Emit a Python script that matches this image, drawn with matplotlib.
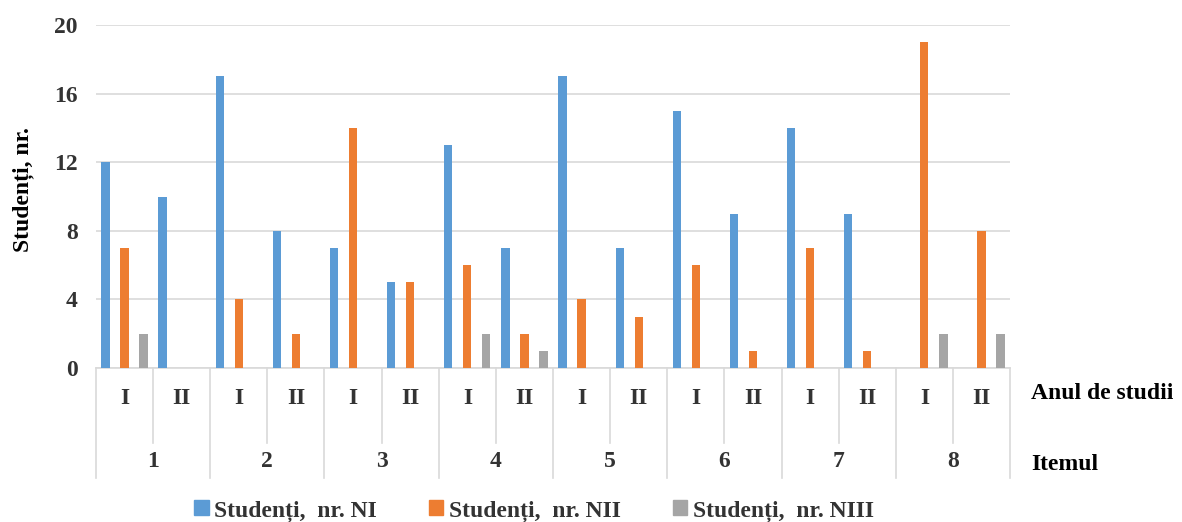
import numpy as np
import matplotlib.pyplot as plt
from matplotlib.patches import Patch

plt.rcParams['font.family'] = ['Liberation Serif', 'DejaVu Serif']

# itemi si anii de studii
itemi = ['1', '2', '3', '4', '5', '6', '7', '8']
ani = ['I', 'II']

# numarul de studenti pe fiecare categorie (item x an)
nr_NI   = [12, 10, 17, 8, 7, 5, 13, 7, 17, 7, 15, 9, 14, 9, 0, 0]
nr_NII  = [7, 0, 4, 2, 14, 5, 6, 2, 4, 3, 6, 1, 7, 1, 19, 8]
nr_NIII = [2, 0, 0, 0, 0, 0, 2, 1, 0, 0, 0, 0, 0, 0, 2, 2]

serii = ['Studenți,  nr. NI', 'Studenți,  nr. NII', 'Studenți,  nr. NIII']
culori = ['#5B9BD5', '#ED7D31', '#A5A5A5']
text_col = '#333333'
grid_col = '#D9D9D9'
fs = 17

n = len(nr_NI)
x = np.arange(n) + 0.5

fig = plt.figure(figsize=(11.82, 5.22), dpi=100)
ax = fig.add_axes([0.0812, 0.295, 0.7733, 0.657])

w = 0.145
for k, (vals, c) in enumerate(zip([nr_NI, nr_NII, nr_NIII], culori)):
    ax.bar(x + (k - 1) / 3, vals, width=w, color=c, zorder=3)

ax.set_xlim(0, n)
ax.set_ylim(0, 20)
ax.set_yticks(range(0, 21, 4))
ax.yaxis.grid(True, color=grid_col, linewidth=1.2, zorder=0)
for s in ['left', 'right', 'top']:
    ax.spines[s].set_visible(False)
ax.spines['bottom'].set_color(grid_col)
ax.spines['bottom'].set_linewidth(1.2)
ax.tick_params(axis='y', length=0, pad=13, labelsize=fs, labelcolor=text_col)
for t in ax.get_yticklabels():
    t.set_fontweight('bold')
ax.set_xticks([])

ax.set_ylabel('Studenți, nr.', fontsize=17, fontweight='bold', color='black')
ax.yaxis.set_label_coords(-0.068, 0.52)

# axa de categorii pe doua niveluri
tr = ax.get_xaxis_transform()
for i in range(n + 1):
    jos = -0.32 if i % 2 == 0 else -0.219
    ax.plot([i, i], [0, jos], transform=tr, color=grid_col, lw=1.2, clip_on=False)
for i in range(n):
    ax.text(i + 0.5, -0.088, ani[i % 2], transform=tr, ha='center', va='center',
            fontsize=fs, fontweight='bold', color=text_col)
for j, it in enumerate(itemi):
    ax.text(2 * j + 1, -0.272, it, transform=tr, ha='center', va='center',
            fontsize=fs, fontweight='bold', color=text_col)

ax.text(1.023, -0.075, 'Anul de studii', transform=ax.transAxes, ha='left', va='center',
        fontsize=fs, fontweight='bold', color='black')
ax.text(1.023, -0.28, 'Itemul', transform=ax.transAxes, ha='left', va='center',
        fontsize=fs, fontweight='bold', color='black')

handles = [Patch(color=c, label=s) for c, s in zip(culori, serii)]
leg = fig.legend(handles=handles, loc='lower center', bbox_to_anchor=(0.452, -0.04),
                 ncol=3, frameon=False, handlelength=0.6, handleheight=0.6,
                 handletextpad=0.25, columnspacing=2.2,
                 prop={'size': fs, 'weight': 'bold'})
for t in leg.get_texts():
    t.set_color(text_col)

fig.savefig('out.png', dpi=100)
